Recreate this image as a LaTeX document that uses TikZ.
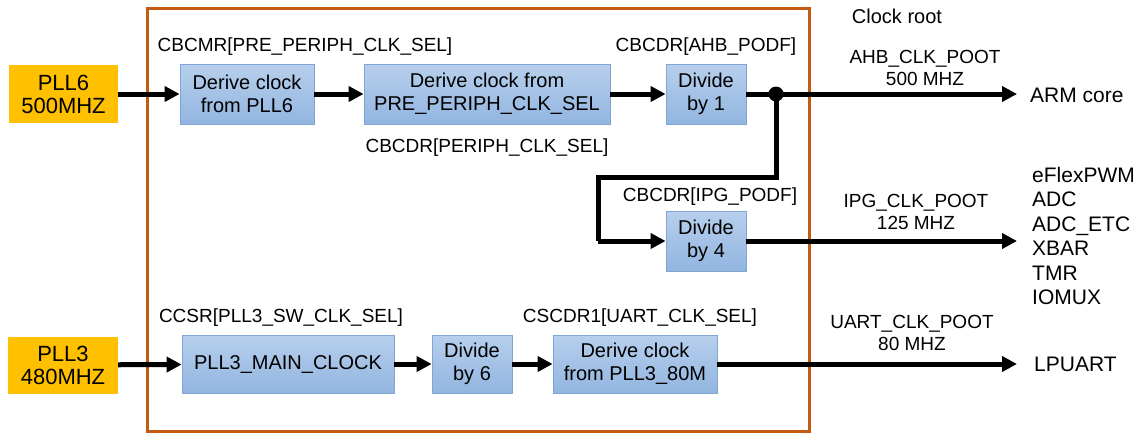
\documentclass[tikz,border=0pt]{standalone}
\usepackage{fontspec}
\setmainfont{Liberation Sans}
\usetikzlibrary{arrows.meta,calc}
\definecolor{frameor}{HTML}{C55A11}
\definecolor{pllor}{HTML}{FFC000}
\definecolor{bluetop}{HTML}{B7CFEC}
\definecolor{bluebot}{HTML}{92B5E0}
\definecolor{blueedge}{HTML}{7FA6D4}
\tikzset{
  blk/.style={draw=blueedge, line width=0.8pt, top color=bluetop, bottom color=bluebot,
    align=center, inner sep=0pt, font=\fontsize{20}{23}\selectfont},
  pll/.style={fill=pllor, align=center, inner sep=0pt, font=\fontsize{22}{23}\selectfont},
  lbl/.style={font=\fontsize{19}{22}\selectfont, inner sep=0pt, align=center},
  dest/.style={font=\fontsize{21}{24.5}\selectfont, inner sep=0pt, anchor=west, align=left},
  conn/.style={line width=5pt, -{Triangle[length=15pt,width=15pt]}},
  plainconn/.style={line width=5pt},
}
\begin{document}
\begin{tikzpicture}[x=1pt,y=-1pt]
\useasboundingbox (0,0) rectangle (1140,434);
% frame
\draw[frameor, line width=3pt] (147,8) rectangle (809,431);
% sources
\node[pll, minimum width=109pt, minimum height=58pt] (pll6) at (63.5,94) {PLL6\\500MHZ};
\node[pll, minimum width=110pt, minimum height=57pt] (pll3) at (63,365) {PLL3\\480MHZ};
% blocks
\node[blk, minimum width=134pt, minimum height=60pt] (d6) at (247,94) {Derive clock\\from PLL6};
\node[blk, minimum width=246pt, minimum height=60pt] (dpre) at (487,94) {Derive clock from\\PRE\_PERIPH\_CLK\_SEL};
\node[blk, minimum width=80pt, minimum height=60pt] (div1) at (706,94) {Divide\\by 1};
\node[blk, minimum width=80pt, minimum height=60pt] (div4) at (706,241) {Divide\\by 4};
\node[blk, minimum width=212pt, minimum height=58pt] (pmain) at (288,364) {PLL3\_MAIN\_CLOCK};
\node[blk, minimum width=80pt, minimum height=58pt] (div6) at (472,364) {Divide\\by 6};
\node[blk, minimum width=164pt, minimum height=58pt] (d80) at (635,364) {Derive clock\\from PLL3\_80M};
% labels
\node[lbl] (l1) at (305,47) {CBCMR[PRE\_PERIPH\_CLK\_SEL]};
\node[lbl] (l2) at (487,148) {CBCDR[PERIPH\_CLK\_SEL]};
\node[lbl] (l3) at (706,47) {CBCDR[AHB\_PODF]};
\node[lbl] (l4) at (710,197) {CBCDR[IPG\_PODF]};
\node[lbl] (l5) at (281,318) {CCSR[PLL3\_SW\_CLK\_SEL]};
\node[lbl] (l6) at (640,318) {CSCDR1[UART\_CLK\_SEL]};
\node[lbl, font=\fontsize{20}{22}\selectfont] (lroot) at (897,16) {Clock root};
\node[lbl] (lahb) at (925,68) {AHB\_CLK\_POOT\\500 MHZ};
\node[lbl] (lipg) at (916,212) {IPG\_CLK\_POOT\\125 MHZ};
\node[lbl] (luart) at (912,333) {UART\_CLK\_POOT\\80 MHZ};
% destinations
\node[dest] (arm) at (1030,95) {ARM core};
\node[dest] (periph) at (1032,236) {eFlexPWM\\ADC\\ADC\_ETC\\XBAR\\TMR\\IOMUX};
\node[dest] (lpuart) at (1034,364) {LPUART};
% junction
\coordinate (j) at (776,94);
\coordinate (j1) at (776,177);
\coordinate (j2) at (598,177);
\coordinate (j3) at (598,241);
\coordinate (armend) at (1017,94);
\coordinate (perend) at (1017,241);
\coordinate (uartend) at (1017,364);
% connectors
\draw[conn] (pll6) -- (d6);
\draw[conn] (d6) -- (dpre);
\draw[conn] (dpre) -- (div1);
\draw[conn] (div1) -- (armend);
\draw[plainconn, line join=miter] (j) -- (j1) -- (j2) -- (j3);
\draw[conn] (j3) -- (div4);
\draw[conn] (div4) -- (perend);
\fill (j) circle (7.5pt);
\draw[conn] (pll3) -- (pmain);
\draw[conn] (pmain) -- (div6);
\draw[conn] (div6) -- (d80);
\draw[conn] (d80) -- (uartend);
\end{tikzpicture}
\end{document}
